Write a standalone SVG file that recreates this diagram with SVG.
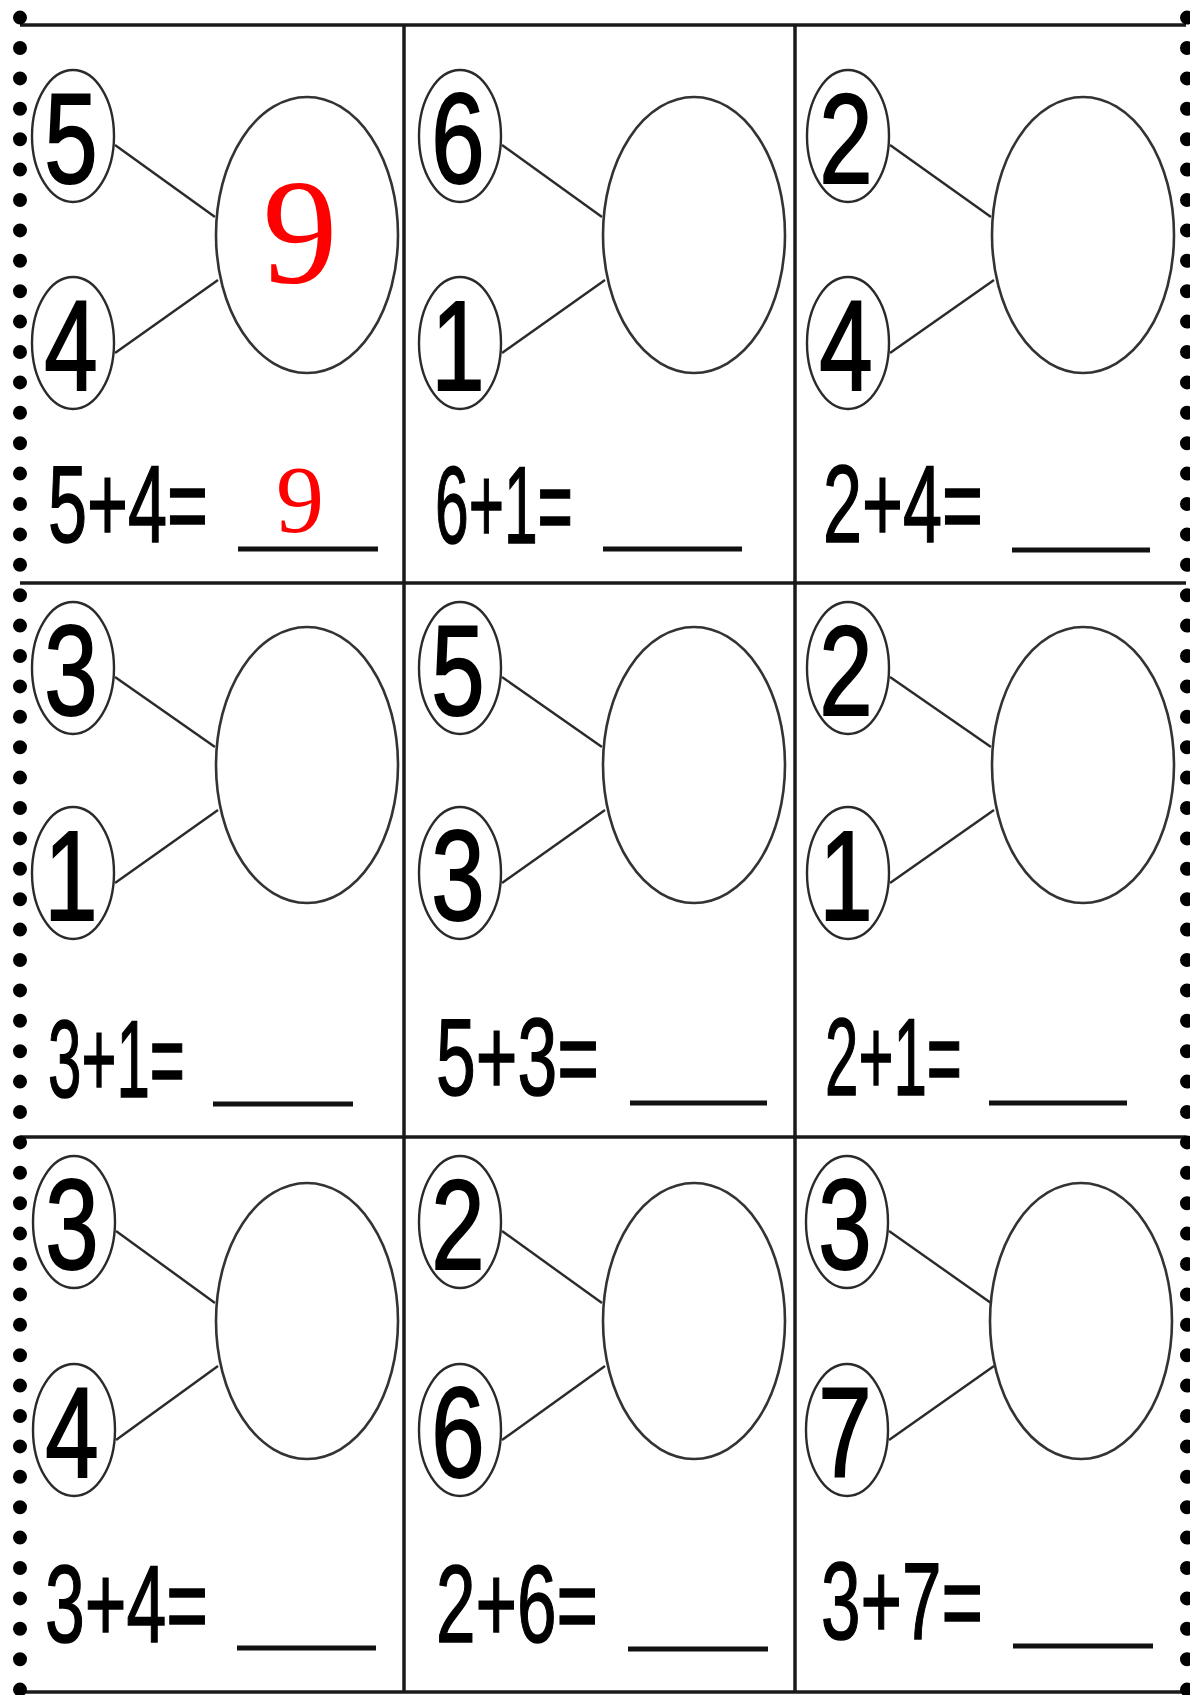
<svg xmlns="http://www.w3.org/2000/svg" width="1190" height="1695" viewBox="0 0 1190 1695">
<style>
.bg{fill:#fff}
.grid{stroke:#1a1a1a;stroke-width:3.5;fill:none}
.dots{stroke:#000;stroke-width:14;stroke-linecap:round;stroke-dasharray:0 30.4;fill:none}
.sm{fill:#fff;stroke:#2a2a2a;stroke-width:2.4}
.big{fill:#fff;stroke:#333;stroke-width:2.6}
.con{stroke:#2a2a2a;stroke-width:2.4}
.d{font-family:"Liberation Sans",Arial,sans-serif;font-size:128px;fill:#000;stroke:#000;stroke-width:2;text-anchor:middle}
.eq{font-family:"Liberation Sans",Arial,sans-serif;font-size:110px;fill:#000;stroke:#000;stroke-width:1.5}
.ul{stroke:#111;stroke-width:5}
.ans{font-family:"Liberation Serif","Times New Roman",serif;fill:#f00;text-anchor:middle}
</style>
<rect class="bg" x="0" y="0" width="1190" height="1695"/>
<g id="grid">
<line class="grid" x1="20" y1="25" x2="1186" y2="25"/>
<line class="grid" x1="20" y1="583" x2="1186" y2="583"/>
<line class="grid" x1="20" y1="1137" x2="1186" y2="1137"/>
<line class="grid" x1="20" y1="1692" x2="1186" y2="1692"/>
<line class="grid" x1="404" y1="25" x2="404" y2="1692"/>
<line class="grid" x1="795" y1="25" x2="795" y2="1692"/>
<line class="dots" x1="20" y1="17.6" x2="20" y2="1695"/>
<line class="dots" x1="1187" y1="17.6" x2="1187" y2="1695"/>
</g>
<g id="connectors">
<line class="con" x1="115" y1="145" x2="215" y2="217"/>
<line class="con" x1="115" y1="353" x2="218" y2="280"/>
<line class="con" x1="502" y1="145" x2="602" y2="217"/>
<line class="con" x1="502" y1="353" x2="605" y2="280"/>
<line class="con" x1="890" y1="145" x2="991" y2="217"/>
<line class="con" x1="890" y1="353" x2="994" y2="280"/>
<line class="con" x1="115" y1="677" x2="215" y2="747"/>
<line class="con" x1="115" y1="883" x2="218" y2="810"/>
<line class="con" x1="502" y1="677" x2="602" y2="747"/>
<line class="con" x1="502" y1="883" x2="605" y2="810"/>
<line class="con" x1="890" y1="677" x2="991" y2="747"/>
<line class="con" x1="890" y1="883" x2="994" y2="810"/>
<line class="con" x1="116" y1="1231" x2="215" y2="1303"/>
<line class="con" x1="116" y1="1440" x2="218" y2="1366"/>
<line class="con" x1="502" y1="1231" x2="602" y2="1303"/>
<line class="con" x1="502" y1="1440" x2="605" y2="1366"/>
<line class="con" x1="889" y1="1231" x2="991" y2="1303"/>
<line class="con" x1="889" y1="1440" x2="994" y2="1366"/>
</g>
<!-- Row 1 -->
<g id="r1c1-a"><ellipse class="sm" cx="73" cy="136" rx="41" ry="66"/><text class="d" transform="translate(71,183) scale(0.75,1)">5</text></g>
<g id="r1c1-b"><ellipse class="sm" cx="73" cy="343" rx="41" ry="66"/><text class="d" transform="translate(71,390) scale(0.75,1)">4</text></g>
<g id="r1c1-sum"><ellipse class="big" cx="307" cy="235" rx="91" ry="138"/><text class="ans" x="300" y="283" font-size="150">9</text></g>
<g id="r1c1-eq"><text class="eq" transform="translate(48,542) scale(0.638,1)">5+4=</text><line class="ul" x1="238" y1="549" x2="378" y2="549"/><text class="ans" x="300" y="532" font-size="96">9</text></g>

<g id="r1c2-a"><ellipse class="sm" cx="460" cy="136" rx="41" ry="66"/><text class="d" transform="translate(458,183) scale(0.75,1)">6</text></g>
<g id="r1c2-b"><ellipse class="sm" cx="460" cy="343" rx="41" ry="66"/><text class="d" transform="translate(458,390) scale(0.75,1)">1</text></g>
<g id="r1c2-sum"><ellipse class="big" cx="694" cy="235" rx="91" ry="138"/></g>
<g id="r1c2-eq"><text class="eq" transform="translate(435,543) scale(0.55,1)">6+1=</text><line class="ul" x1="603" y1="549" x2="742" y2="549"/></g>

<g id="r1c3-a"><ellipse class="sm" cx="848" cy="136" rx="41" ry="66"/><text class="d" transform="translate(846,183) scale(0.75,1)">2</text></g>
<g id="r1c3-b"><ellipse class="sm" cx="848" cy="343" rx="41" ry="66"/><text class="d" transform="translate(846,390) scale(0.75,1)">4</text></g>
<g id="r1c3-sum"><ellipse class="big" cx="1083" cy="235" rx="91" ry="138"/></g>
<g id="r1c3-eq"><text class="eq" transform="translate(823,542) scale(0.638,1)">2+4=</text><line class="ul" x1="1012" y1="550" x2="1150" y2="550"/></g>

<!-- Row 2 -->
<g id="r2c1-a"><ellipse class="sm" cx="73" cy="668" rx="41" ry="66"/><text class="d" transform="translate(71,715) scale(0.75,1)">3</text></g>
<g id="r2c1-b"><ellipse class="sm" cx="73" cy="873" rx="41" ry="66"/><text class="d" transform="translate(71,920) scale(0.75,1)">1</text></g>
<g id="r2c1-sum"><ellipse class="big" cx="307" cy="765" rx="91" ry="138"/></g>
<g id="r2c1-eq"><text class="eq" transform="translate(48,1097) scale(0.546,1)">3+1=</text><line class="ul" x1="213" y1="1104" x2="353" y2="1104"/></g>

<g id="r2c2-a"><ellipse class="sm" cx="460" cy="668" rx="41" ry="66"/><text class="d" transform="translate(458,715) scale(0.75,1)">5</text></g>
<g id="r2c2-b"><ellipse class="sm" cx="460" cy="873" rx="41" ry="66"/><text class="d" transform="translate(458,920) scale(0.75,1)">3</text></g>
<g id="r2c2-sum"><ellipse class="big" cx="694" cy="765" rx="91" ry="138"/></g>
<g id="r2c2-eq"><text class="eq" transform="translate(436,1095) scale(0.65,1)">5+3=</text><line class="ul" x1="630" y1="1103" x2="767" y2="1103"/></g>

<g id="r2c3-a"><ellipse class="sm" cx="848" cy="668" rx="41" ry="66"/><text class="d" transform="translate(846,715) scale(0.75,1)">2</text></g>
<g id="r2c3-b"><ellipse class="sm" cx="848" cy="873" rx="41" ry="66"/><text class="d" transform="translate(846,920) scale(0.75,1)">1</text></g>
<g id="r2c3-sum"><ellipse class="big" cx="1083" cy="765" rx="91" ry="138"/></g>
<g id="r2c3-eq"><text class="eq" transform="translate(825,1095) scale(0.546,1)">2+1=</text><line class="ul" x1="989" y1="1103" x2="1127" y2="1103"/></g>

<!-- Row 3 -->
<g id="r3c1-a"><ellipse class="sm" cx="74" cy="1222" rx="41" ry="66"/><text class="d" transform="translate(72,1269) scale(0.75,1)">3</text></g>
<g id="r3c1-b"><ellipse class="sm" cx="74" cy="1430" rx="41" ry="66"/><text class="d" transform="translate(72,1477) scale(0.75,1)">4</text></g>
<g id="r3c1-sum"><ellipse class="big" cx="307" cy="1321" rx="91" ry="138"/></g>
<g id="r3c1-eq"><text class="eq" transform="translate(45,1642) scale(0.65,1)">3+4=</text><line class="ul" x1="237" y1="1648" x2="376" y2="1648"/></g>

<g id="r3c2-a"><ellipse class="sm" cx="460" cy="1222" rx="41" ry="66"/><text class="d" transform="translate(458,1269) scale(0.75,1)">2</text></g>
<g id="r3c2-b"><ellipse class="sm" cx="460" cy="1430" rx="41" ry="66"/><text class="d" transform="translate(458,1477) scale(0.75,1)">6</text></g>
<g id="r3c2-sum"><ellipse class="big" cx="694" cy="1321" rx="91" ry="138"/></g>
<g id="r3c2-eq"><text class="eq" transform="translate(436,1642) scale(0.646,1)">2+6=</text><line class="ul" x1="628" y1="1649" x2="768" y2="1649"/></g>

<g id="r3c3-a"><ellipse class="sm" cx="847" cy="1222" rx="41" ry="66"/><text class="d" transform="translate(845,1269) scale(0.75,1)">3</text></g>
<g id="r3c3-b"><ellipse class="sm" cx="847" cy="1430" rx="41" ry="66"/><text class="d" transform="translate(845,1477) scale(0.75,1)">7</text></g>
<g id="r3c3-sum"><ellipse class="big" cx="1081" cy="1321" rx="91" ry="138"/></g>
<g id="r3c3-eq"><text class="eq" transform="translate(821,1639) scale(0.646,1)">3+7=</text><line class="ul" x1="1013" y1="1646" x2="1153" y2="1646"/></g>
</svg>
